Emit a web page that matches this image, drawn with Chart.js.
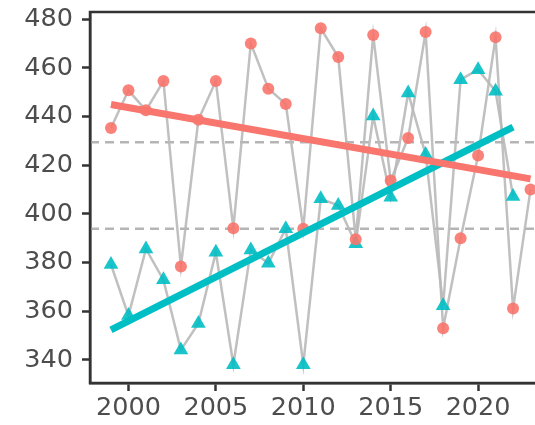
<!DOCTYPE html>
<html>
<head>
<meta charset="utf-8">
<script src="https://cdn.jsdelivr.net/npm/chart.js@4.4.1/dist/chart.umd.min.js"></script>
<style>
    html, body { margin: 0; padding: 0; overflow: hidden; background: #fff; }
    #wrap { width: 560px; height: 425px; }
</style>
</head>
<body>
<div id="wrap"><canvas id="chart" width="560" height="425"></canvas></div>
<script>
// Data
const years = [1999, 2000, 2001, 2002, 2003, 2004, 2005, 2006, 2007, 2008, 2009, 2010, 2011,
    2012, 2013, 2014, 2015, 2016, 2017, 2018, 2019, 2020, 2021, 2022, 2023];
const redValues = [435.3, 450.8, 442.6, 454.6, 378.4, 438.7, 454.6, 394.1, 470.1, 451.5, 445.2, 393.9, 476.3,
    464.5, 389.6, 473.5, 413.7, 431.2, 474.8, 353.0, 390.0, 424.0, 472.6, 361.1, 410.0];
// teal series stops at 2022
const tealValues = [379.2, 358.2, 385.6, 372.9, 344.1, 355.0, 384.2, 338.0, 385.2, 379.7, 393.9, 338.0, 406.2,
    403.5, 387.7, 440.2, 406.9, 449.7, 424.4, 362.3, 455.2, 459.3, 450.4, 407.2];
// trend line end points
const redFitYears = [1999, 2023];
const redFit = [445.0, 414.4];
const tealFitYears = [1999, 2022];
const tealFit = [352.3, 435.7];
// dashed reference lines
const refLines = [429.5, 393.9];
const xTicks = [2000, 2005, 2010, 2015, 2020];
const yTicks = [340, 360, 380, 400, 420, 440, 460, 480];

const X_MIN = 1997.8, X_MAX = 2024.2;
const RED = "#F8766D", TEAL = "#00BFC4";

const pts = (xs, ys) => ys.map((y, i) => ({ x: xs[i], y: y }));

// panel border (top / right)
const panelBorder = {
    id: "panelBorder",
    afterDraw(chart) {
        const { ctx, chartArea: a } = chart;
        ctx.save();
        ctx.strokeStyle = "#333333";
        ctx.lineWidth = 2.5;
        ctx.strokeRect(a.left, a.top, a.right - a.left, a.bottom - a.top);
        ctx.restore();
    },
};

const datasets = [
    // drawn on top (first dataset is painted last)
    { data: pts(redFitYears, redFit), borderColor: RED, borderWidth: 7, pointRadius: 0 },
    { data: pts(tealFitYears, tealFit), borderColor: TEAL, borderWidth: 7, pointRadius: 0 },
    {
        data: pts(years, redValues), showLine: false, pointStyle: "circle", pointRadius: 6,
        pointBackgroundColor: "rgba(248,118,109,0.9)", pointBorderWidth: 0,
    },
    {
        data: pts(years, tealValues), showLine: false, pointStyle: "triangle", pointRadius: 8.5,
        pointBackgroundColor: "rgba(0,191,196,0.9)", pointBorderWidth: 0,
    },
    { data: pts(years, redValues), borderColor: "rgba(185,185,185,0.9)", borderWidth: 2.5, pointRadius: 0 },
    { data: pts(years, tealValues), borderColor: "rgba(185,185,185,0.9)", borderWidth: 2.5, pointRadius: 0 },
];
refLines.forEach((v) => {
    datasets.push({
        data: [{ x: X_MIN, y: v }, { x: X_MAX, y: v }],
        borderColor: "#b5b5b5", borderWidth: 2.5, borderDash: [9, 6], pointRadius: 0,
    });
});

const axisFont = { family: "'DejaVu Sans', sans-serif", size: 25.5, lineHeight: 1 };

new Chart(document.getElementById("chart"), {
    type: "line",
    data: { datasets: datasets },
    options: {
        responsive: false,
        animation: false,
        devicePixelRatio: 1,
        layout: { padding: { top: 12, right: 6, left: 0, bottom: 0 } },
        plugins: { legend: { display: false }, tooltip: { enabled: false } },
        elements: { line: { tension: 0 } },
        scales: {
            x: {
                type: "linear",
                min: X_MIN,
                max: X_MAX,
                afterBuildTicks: (s) => { s.ticks = xTicks.map((v) => ({ value: v })); },
                afterFit: (s) => { s.height = 42; s.paddingLeft = 0; s.paddingRight = 0; },
                ticks: { font: axisFont, color: "#4d4d4d", padding: 5, maxRotation: 0, callback: (v) => String(v) },
                grid: { drawOnChartArea: false, tickLength: 8, tickWidth: 2.5, tickColor: "#333333" },
                border: { display: true, color: "#333333", width: 2.5 },
            },
            y: {
                min: 330.5,
                max: 483,
                afterBuildTicks: (s) => { s.ticks = yTicks.map((v) => ({ value: v })); },
                afterFit: (s) => { s.width = 90; s.paddingTop = 0; s.paddingBottom = 0; },
                ticks: { font: axisFont, color: "#4d4d4d", padding: 9 },
                grid: { drawOnChartArea: false, tickLength: 8, tickWidth: 2.5, tickColor: "#333333" },
                border: { display: true, color: "#333333", width: 2.5 },
            },
        },
    },
    plugins: [panelBorder],
});
</script>
</body>
</html>
